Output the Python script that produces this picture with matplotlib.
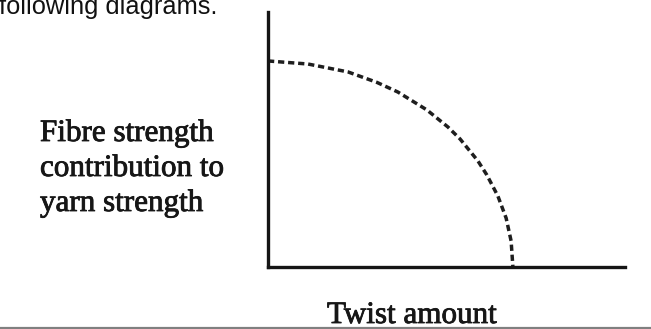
import matplotlib
matplotlib.use("Agg")
import matplotlib.pyplot as plt
import matplotlib.patheffects as pe

# curve (axis units: x 0..10 along the twist axis, y 0..10 up the strength axis)
twist = [0.00, 1.12, 2.24, 3.05, 3.64, 4.45, 5.04, 5.38, 5.88, 6.13, 6.44, 6.67, 6.81, 6.86]
strength = [8.08, 7.96, 7.65, 7.24, 6.86, 6.16, 5.49, 5.02, 4.16, 3.61, 2.78, 1.92, 1.02, 0.00]

Y_LABEL = ["Fibre strength", "contribution to", "yarn strength"]
X_LABEL = "Twist amount"
HEADER = "following diagrams."

W, H = 651, 329
fig = plt.figure(figsize=(W / 100, H / 100), dpi=100)
fig.patch.set_facecolor("white")


def fx(px):
    return px / W


def fy(py):
    return 1 - py / H


ax = fig.add_axes([fx(268), fy(267), (625 - 268) / W, (267 - 12) / H])
ax.set_xlim(0, 10)
ax.set_ylim(0, 10)
for s in ("top", "right"):
    ax.spines[s].set_visible(False)
for s in ("left", "bottom"):
    ax.spines[s].set_linewidth(2.4)
    ax.spines[s].set_color("#151515")
ax.set_xticks([])
ax.set_yticks([])
ax.set_facecolor("none")

ax.plot(twist, strength, color="#1e1e1e", lw=2.5, linestyle=(0, (1.8, 1.1)),
        dash_capstyle="butt", clip_on=False)

serif = ["Liberation Serif", "DejaVu Serif"]
thick = [pe.withStroke(linewidth=0.6, foreground="#161616")]
for i, line in enumerate(Y_LABEL):
    fig.text(fx(40), fy(141 + 35 * i), line, family=serif, fontsize=22.4,
             color="#161616", ha="left", va="baseline", path_effects=thick)
fig.text(fx(327), fy(323), X_LABEL, family=serif, fontsize=22.4,
         color="#161616", ha="left", va="baseline", path_effects=thick)

fig.text(fx(-1), fy(14), HEADER, family=["Liberation Sans", "DejaVu Sans"],
         fontsize=18.3, color="#111111", ha="left", va="baseline")

# grey rule along the bottom edge
fig.add_artist(plt.Line2D([0, 1], [fy(328), fy(328)], transform=fig.transFigure,
                          color="#808080", lw=1.6))

fig.savefig("out.png", dpi=100)
